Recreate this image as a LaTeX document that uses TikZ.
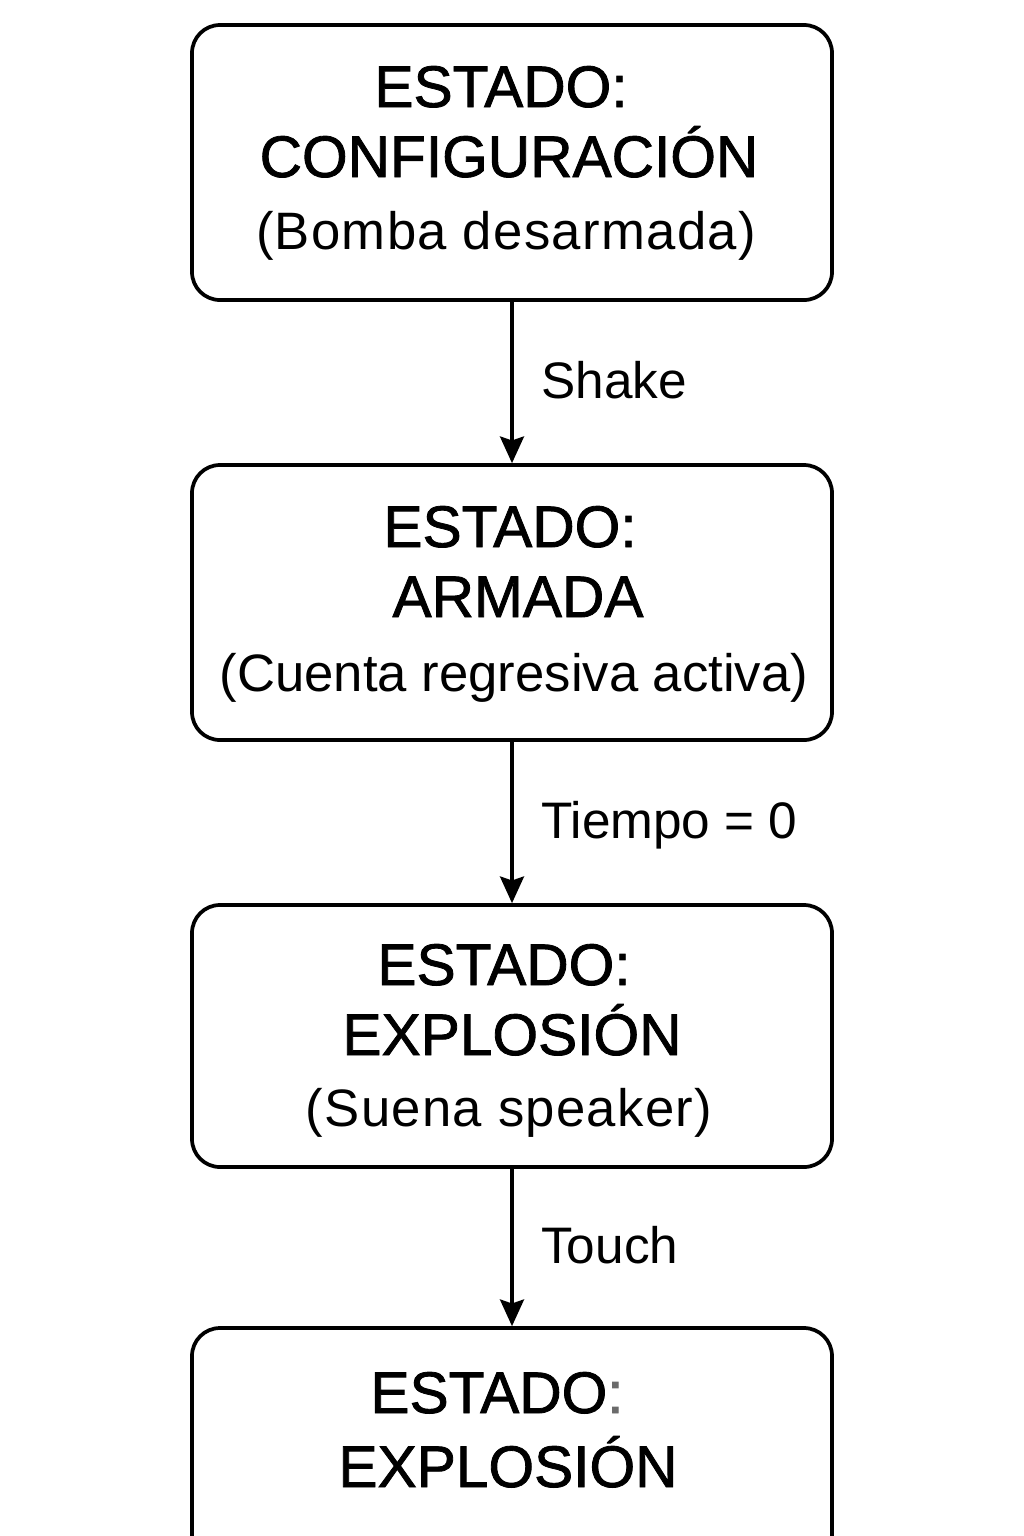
\documentclass[tikz,border=0pt]{standalone}
\usepackage{fontspec}
\setmainfont{Liberation Sans}
\newfontfamily\headfont[FakeBold=1.4]{Liberation Sans}
\newfontfamily\subfont[LetterSpace=2.5]{Liberation Sans}
\newfontfamily\subfontnarrow{Liberation Sans}
\usetikzlibrary{arrows.meta}
\definecolor{colgrey}{gray}{0.42}
\tikzset{
  box/.style={draw=black, line width=2.8pt, rounded corners=21pt, minimum width=480pt, inner sep=0pt, fill=white},
  head/.style={font=\headfont\fontsize{44pt}{50pt}\selectfont, inner sep=0pt, anchor=base},
  sub/.style={font=\subfont\fontsize{39.5pt}{46pt}\selectfont, inner sep=0pt, anchor=base},
  subn/.style={font=\subfontnarrow\fontsize{39.5pt}{46pt}\selectfont, inner sep=0pt, anchor=base},
  lab/.style={font=\fontsize{38.5pt}{44pt}\selectfont, inner sep=0pt, anchor=base west},
  arr/.style={line width=2.5pt, -{Stealth[length=20pt, width=18pt, inset=3pt]}}
}
\begin{document}
\begin{tikzpicture}[x=0.75pt,y=-0.75pt]
\path[use as bounding box] (0,0) rectangle (1024,1536);
\fill[white] (0,0) rectangle (1024,1536);
\clip (0,0) rectangle (1024,1536);
% boxes
\node[box, minimum height=206.25pt] (b1) at (512,162.5) {};
\node[box, minimum height=206.25pt] (b2) at (512,602.5) {};
\node[box, minimum height=196.5pt] (b3) at (512,1036) {};
\node[box, minimum height=225pt] (b4) at (512,1478) {};
% texts
\node[head] (b1a) at (501,107) {ESTADO:};
\node[head] (b1b) at (509,177) {CONFIGURACIÓN};
\node[sub] (b1c) at (506,249) {(Bomba desarmada)};
\node[head] (b2a) at (510,547) {ESTADO:};
\node[head] (b2b) at (518,617) {ARMADA};
\node[subn] (b2c) at (514,691) {(Cuenta regresiva activa)};
\node[head] (b3a) at (504,985) {ESTADO:};
\node[head] (b3b) at (512,1055) {EXPLOSIÓN};
\node[sub] (b3c) at (509,1126) {(Suena speaker)};
\node[head] (b4a) at (497,1413) {ESTADO\textcolor{colgrey}{:}};
\node[head] (b4b) at (508,1487) {EXPLOSIÓN};
% arrows
\draw[arr] (b1.south) -- (b2.north);
\draw[arr] (b2.south) -- (b3.north);
\draw[arr] (b3.south) -- (b4.north);
% labels
\node[lab] (l1) at (541,398) {Shake};
\node[lab] (l2) at (541,838) {Tiempo = 0};
\node[lab] (l3) at (541,1263) {Touch};
\end{tikzpicture}
\end{document}
